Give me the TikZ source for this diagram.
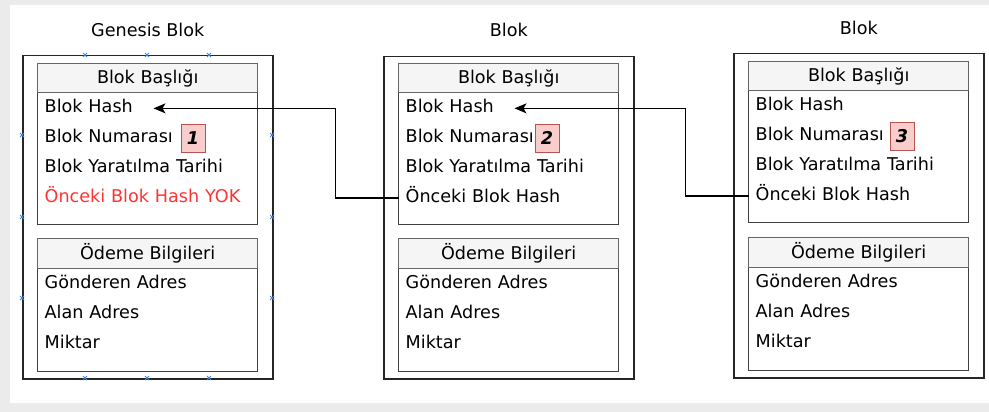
\documentclass[tikz,border=0pt]{standalone}
\usepackage{fontspec}
\setmainfont{DejaVu Sans}
\usetikzlibrary{positioning,arrows.meta}
\definecolor{headfill}{HTML}{F5F5F5}
\definecolor{headline}{HTML}{666666}
\definecolor{badgefill}{HTML}{F8CECC}
\definecolor{badgeline}{HTML}{B85450}
\definecolor{warnred}{HTML}{FF3333}
\definecolor{handleblue}{HTML}{3D86E0}
\definecolor{pagegray}{HTML}{EBEBEB}

\begin{document}
\begin{tikzpicture}[
    x=1pt, y=-1pt,
    font=\fontsize{17.6}{20}\selectfont,
    block/.style={%
        draw=black!85, line width=1.5pt, fill=white,
        minimum width=250pt, anchor=north west, inner sep=0pt},
    frame/.style={%
        draw=black!75, line width=1.4pt, fill=white,
        minimum width=220pt, anchor=north west, inner sep=0pt},
    header/.style={%
        draw=headline, fill=headfill, line width=1.4pt,
        minimum width=220pt, minimum height=29pt,
        anchor=north west, inner sep=0pt},
    row/.style={%
        text width=206pt, align=left, inner xsep=7pt, inner ysep=0pt,
        text height=13pt, text depth=4pt, minimum height=29.5pt,
        below=0pt of #1},
    badge/.style={%
        draw=badgeline, fill=badgefill, line width=1pt,
        minimum width=24pt, minimum height=28pt, inner sep=0pt,
        anchor=west, font=\fontsize{17.6}{20}\selectfont\bfseries\itshape},
    title/.style={inner sep=0pt},
    link/.style={%
        draw=black, line width=1.4pt,
        -{Stealth[length=12pt,width=10pt,inset=3pt]}},
    handle/.style={draw=handleblue, line width=0.8pt},
]
    % Page
    \useasboundingbox (0,0) rectangle (989,412);
    \fill[pagegray] (0,0) rectangle (989,412);
    \fill[white] (10,5) rectangle (989,403);

    % Genesis block
    \node[block, minimum height=323pt] (genesis) at (22,55) {};
    \node[title] (title1) at ([yshift=25pt]genesis.north) {Genesis Blok};
    \node[frame, minimum height=161pt] (frame1a) at (37,63) {};
    \node[header] (head1) at (37,63) {Blok Başlığı};
    \node[row=head1] (hash1) {Blok Hash};
    \node[row=hash1] (num1) {Blok Numarası};
    \node[row=num1] (date1) {Blok Yaratılma Tarihi};
    \node[row=date1, text=warnred] (prev1) {Önceki Blok Hash YOK};
    \node[badge] (badge1) at ([xshift=143pt]num1.west) {1};
    \node[frame, minimum height=133pt] (frame1b) at (37,238) {};
    \node[header, minimum height=30pt] (pay1) at (37,238) {Ödeme Bilgileri};
    \node[row=pay1] (from1) {Gönderen Adres};
    \node[row=from1] (to1) {Alan Adres};
    \node[row=to1] (amount1) {Miktar};

    % selection handles on the genesis block
    \foreach \hx/\hy in {85/55, 147/55, 209/55, 85/378, 147/378, 209/378,
                         22/135, 22/217, 22/298, 272/135, 272/217, 272/298}
        \draw[handle] (\hx-2,\hy-2) -- (\hx+2,\hy+2) (\hx-2,\hy+2) -- (\hx+2,\hy-2);

    % Second block
    \node[block, minimum height=322pt] (block2) at (383,56) {};
    \node[title] (title2) at ([yshift=26pt]block2.north) {Blok};
    \node[frame, minimum height=161pt] (frame2a) at (398,63) {};
    \node[header] (head2) at (398,63) {Blok Başlığı};
    \node[row=head2] (hash2) {Blok Hash};
    \node[row=hash2] (num2) {Blok Numarası};
    \node[row=num2] (date2) {Blok Yaratılma Tarihi};
    \node[row=date2] (prev2) {Önceki Blok Hash};
    \node[badge] (badge2) at ([xshift=136pt]num2.west) {2};
    \node[frame, minimum height=133pt] (frame2b) at (398,238) {};
    \node[header, minimum height=30pt] (pay2) at (398,238) {Ödeme Bilgileri};
    \node[row=pay2] (from2) {Gönderen Adres};
    \node[row=from2] (to2) {Alan Adres};
    \node[row=to2] (amount2) {Miktar};

    % Third block
    \node[block, minimum height=324pt] (block3) at (733,53) {};
    \node[title] (title3) at ([yshift=25pt]block3.north) {Blok};
    \node[frame, minimum height=161pt] (frame3a) at (748,61) {};
    \node[header] (head3) at (748,61) {Blok Başlığı};
    \node[row=head3] (hash3) {Blok Hash};
    \node[row=hash3] (num3) {Blok Numarası};
    \node[row=num3] (date3) {Blok Yaratılma Tarihi};
    \node[row=date3] (prev3) {Önceki Blok Hash};
    \node[badge] (badge3) at ([xshift=141pt]num3.west) {3};
    \node[frame, minimum height=133pt] (frame3b) at (748,237) {};
    \node[header, minimum height=30pt] (pay3) at (748,237) {Ödeme Bilgileri};
    \node[row=pay3] (from3) {Gönderen Adres};
    \node[row=from3] (to3) {Alan Adres};
    \node[row=to3] (amount3) {Miktar};

    % Chain links: previous hash -> hash of the block before
    \draw[link] (prev2.west) -- ++(-63,0) |- ([xshift=116pt]hash1.west);
    \draw[link] (prev3.west) -- ++(-63,0) |- ([xshift=116pt]hash2.west);
\end{tikzpicture}
\end{document}
